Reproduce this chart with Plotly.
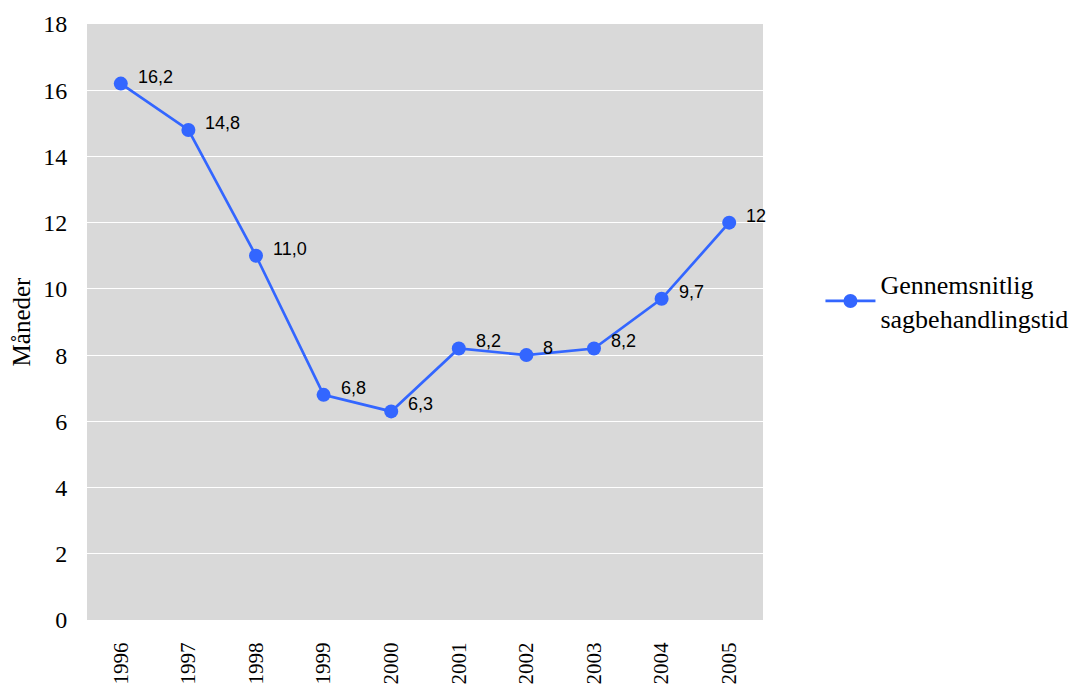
import plotly.graph_objects as go

years = ["1996", "1997", "1998", "1999", "2000", "2001", "2002", "2003", "2004", "2005"]
values = [16.2, 14.8, 11.0, 6.8, 6.3, 8.2, 8.0, 8.2, 9.7, 12.0]
labels = ["16,2", "14,8", "11,0", "6,8", "6,3", "8,2", "8", "8,2", "9,7", "12"]
series_name = "Gennemsnitlig<br>sagbehandlingstid"
y_title = "Måneder"

fig = go.Figure()
fig.add_trace(go.Scatter(
    x=years, y=values, mode="lines+markers", name=series_name,
    line=dict(color="#3366ff", width=2.7),
    marker=dict(color="#3366ff", size=14),
))

for i, (yv, t) in enumerate(zip(values, labels)):
    fig.add_annotation(x=i, y=yv, xref="x", yref="y", text=t, showarrow=False,
                       xanchor="left", yanchor="middle", xshift=15, yshift=7,
                       font=dict(family="Liberation Sans, Arial", size=18, color="#000"))

# body has 8px default margin: compensate
fig.update_layout(
    width=1069, height=678,
    margin=dict(l=79, r=314, t=16, b=66, autoexpand=False),
    paper_bgcolor="white", plot_bgcolor="#d9d9d9",
    showlegend=True,
    legend=dict(x=1.085, y=0.535, xanchor="left", yanchor="middle", itemwidth=50,
                font=dict(family="Liberation Serif, Times New Roman", size=26, color="#000"),
                bgcolor="rgba(0,0,0,0)"),
    font=dict(family="Liberation Serif, Times New Roman", color="#000"),
)
fig.update_xaxes(type="category", range=[-0.5, 9.5], tickangle=-90, automargin=False,
                 tickfont=dict(family="Liberation Serif", size=21),
                 ticks="outside", ticklen=13, tickcolor="rgba(0,0,0,0)",
                 showgrid=False, showline=False, zeroline=False)
fig.update_yaxes(range=[0, 18], dtick=2, showgrid=True, gridcolor="white", gridwidth=1,
                 automargin=False,
                 tickfont=dict(family="Liberation Serif", size=24),
                 ticks="outside", ticklen=14, tickcolor="rgba(0,0,0,0)",
                 zeroline=False, showline=False,
                 title=dict(text=y_title, font=dict(family="Liberation Serif", size=25), standoff=8))

fig.write_html("out.html")
